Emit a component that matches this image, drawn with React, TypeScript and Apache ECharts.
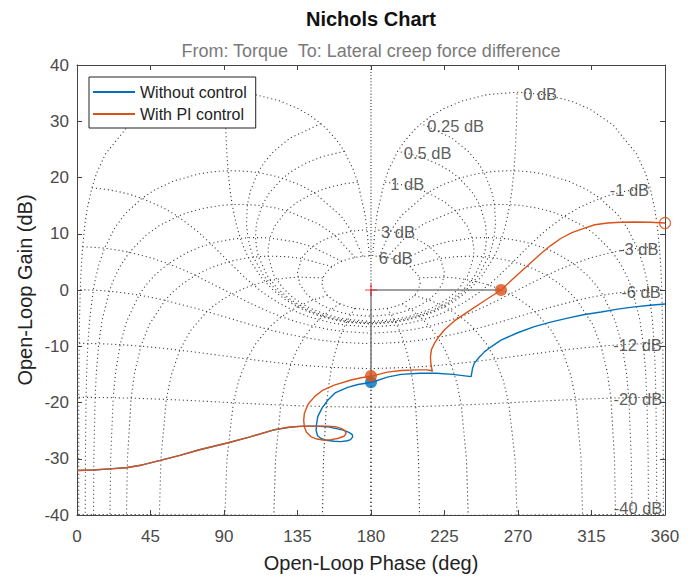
import React, { useEffect, useRef } from "react";
import * as echarts from "echarts";

const FONT = "'Liberation Sans', Arial, Helvetica, sans-serif";
const BLUE = "#0072BD";
const ORANGE = "#D95319";

// Axes
const PHASE_MIN = 0;
const PHASE_MAX = 360;
const PHASE_STEP = 45;
const GAIN_MIN = -40;
const GAIN_MAX = 40;
const GAIN_STEP = 10;

// Nichols grid definition (closed-loop gain / phase values, as in MATLAB ngrid)
const ISOGAIN_DB = [6, 3, 1, 0.5, 0.25, 0, -1, -3, -6, -12, -20, -40];
const ISOGAIN_PHASE_PTS = [1, 2, 3, 4, 5, 7.5, 10, 15, 20, 25, 30, 45, 60, 75, 90, 105, 120, 135, 150, 175, 180];
const ISOPHASE_DEG = [1, 5, 10, 20, 30, 50, 90, 120, 150, 180];
const ISOPHASE_GAIN_PTS = [6, 3, 2, 1, 0.75, 0.5, 0.4, 0.3, 0.25, 0.2, 0.15, 0.1, 0.05, 0, -0.05, -0.1, -0.15, -0.25, -0.5, -0.75, -1, -1.5, -2, -3, -4, -5, -6, -9, -12, -16, -20, -30, -40, -50, -60];

// Open-loop responses
const phaseNoCtrl = [0, 10, 20, 30, 40, 51, 63, 75, 92, 106, 120, 130, 138, 146, 153, 158, 163, 166.5, 168.5, 168.8, 167.5, 165.5, 161.5, 157.5, 152.5, 149.4, 147.3, 146.4, 146.6, 147.4, 150, 153.5, 158, 165.7, 172, 180.6, 190, 198.4, 210, 220, 230, 241.3, 242.2, 243.3, 246.4, 249.4, 253.5, 259.6, 269.8, 280, 290, 300.4, 310, 320.9, 331, 341.2, 351, 360];
const gainNoCtrl = [-32.1, -32.0, -31.8, -31.6, -31.1, -30.3, -29.4, -28.4, -27.2, -26.1, -24.9, -24.4, -24.2, -24.2, -24.3, -24.6, -24.9, -25.3, -25.7, -26.1, -26.6, -26.8, -26.95, -26.9, -26.7, -26.4, -25.9, -25.0, -24.0, -22.5, -21.0, -19.6, -18.3, -17.3, -16.8, -16.4, -15.5, -15.0, -14.8, -14.8, -15.0, -15.4, -13.9, -13.0, -11.9, -11.0, -10.1, -8.9, -7.6, -6.5, -5.7, -5.0, -4.4, -3.9, -3.4, -3.0, -2.7, -2.5];

const phasePI = [0, 10, 20, 30, 40, 51, 63, 75, 92, 106, 120, 127, 133, 139.2, 146, 153.5, 158, 161.7, 164, 164.8, 163.5, 159.6, 155.5, 151.5, 147, 143.3, 140.5, 139.2, 138.8, 139.2, 141.5, 145.3, 150, 157.5, 167.8, 174, 180.6, 190, 198.4, 208, 214, 216.8, 217.6, 216.7, 216.4, 217, 218.8, 221.5, 224.9, 231, 239.2, 249, 259.6, 265.5, 271.9, 278, 284.1, 290, 296.4, 303, 310.7, 317, 324.9, 333, 341.2, 351, 360];
const gainPI = [-32.1, -32.0, -31.8, -31.6, -31.1, -30.3, -29.4, -28.4, -27.2, -26.1, -24.9, -24.5, -24.3, -24.2, -24.2, -24.2, -24.3, -24.6, -25.0, -25.5, -26.0, -26.4, -26.6, -26.7, -26.5, -26.1, -25.3, -24.3, -23.2, -21.9, -20.3, -19.0, -17.9, -16.9, -16.0, -15.6, -15.3, -14.6, -14.3, -14.2, -14.2, -14.3, -14.5, -13.2, -11.9, -10.6, -9.5, -8.3, -7.1, -5.5, -3.9, -2.0, 0, 1.6, 3.3, 4.9, 6.5, 7.9, 9.2, 10.2, 11.0, 11.6, 11.9, 12.05, 12.1, 12.05, 11.9];

// Stability-margin markers
const criticalPoint = [180, 0];
const gmNoCtrl = [180, -16.4];
const gmPI = [180, -15.3];
const pmPI = [259.6, 0];
const endPI = [360, 11.9];

function openLoop(gDb: number, pDeg: number): [number, number] {
  const g = Math.pow(10, gDb / 20);
  const p = (pDeg * Math.PI) / 180;
  const a = g * Math.cos(p);
  const b = g * Math.sin(p);
  const re = a - a * a - b * b;
  const im = b;
  const den = (1 - a) * (1 - a) + b * b;
  const mag = Math.sqrt(re * re + im * im) / den;
  let ph = (Math.atan2(im, re) * 180) / Math.PI;
  ph = ((ph % 360) + 360) % 360;
  return [ph, 20 * Math.log10(mag)];
}

function buildOption() {
  const gridStyle = { color: "#3a3a3a", width: 1.1, type: [1.1, 2.9] as number[] };
  const gridSeries: any[] = [];

  const fullPhasePts = [
    ...ISOGAIN_PHASE_PTS,
    ...ISOGAIN_PHASE_PTS.slice(0, -1).reverse().map((p) => 360 - p),
  ];
  const isogainLines = ISOGAIN_DB.map((g) => fullPhasePts.map((p) => openLoop(g, p)));
  isogainLines.forEach((line, i) => {
    gridSeries.push({
      type: "line",
      name: "isogain" + i,
      data: line,
      showSymbol: false,
      symbol: "none",
      silent: true,
      z: 1,
      lineStyle: gridStyle,
    });
  });

  ISOPHASE_DEG.forEach((p, i) => {
    const left = ISOPHASE_GAIN_PTS.map((g) => openLoop(g, p));
    const right = left.map(([ph, gn]) => [360 - ph, gn]);
    [left, right].forEach((line, k) => {
      gridSeries.push({
        type: "line",
        name: "isophase" + i + "_" + k,
        data: line,
        showSymbol: false,
        symbol: "none",
        silent: true,
        z: 1,
        lineStyle: gridStyle,
      });
    });
  });

  gridSeries.push({
    type: "line",
    name: "isophase0",
    data: [criticalPoint, [criticalPoint[0], GAIN_MAX]],
    showSymbol: false,
    symbol: "none",
    silent: true,
    z: 1,
    lineStyle: { ...gridStyle, type: [1.1, 2] },
  });

  const labelData = ISOGAIN_DB.map((g, i) => {
    const line = isogainLines[i];
    const [ph, gn] = line[line.length - 1];
    const pos = g >= 0;
    return {
      value: [ph, gn],
      label: {
        show: true,
        formatter: `${g} dB`,
        position: pos ? "right" : "left",
        distance: pos ? 6 : 1,
        offset: [0, g === -40 ? -7 : 2],
      },
    };
  });

  const axisColor = "#444";
  const axisCommon = {
    axisLine: { show: true, onZero: false, lineStyle: { color: axisColor, width: 1 } },
    axisTick: { show: true, inside: true, length: 5, lineStyle: { color: axisColor } },
    splitLine: { show: false },
  };

  return {
    animation: false,
    backgroundColor: "#fff",
    textStyle: { fontFamily: FONT },
    grid: { left: 77, right: 29, top: 65, bottom: 62, containLabel: false },
    legend: {
      data: ["Without control", "With PI control"],
      orient: "vertical",
      left: 89,
      top: 77,
      icon: "rect",
      itemWidth: 42,
      itemHeight: 2,
      itemGap: 2,
      padding: [5, 9, 4, 4],
      borderColor: "#222",
      borderWidth: 1,
      borderRadius: 0,
      backgroundColor: "#fff",
      selectedMode: false,
      textStyle: { fontSize: 16, fontFamily: FONT, color: "#222", lineHeight: 20 },
    },
    xAxis: [
      {
        type: "value",
        min: PHASE_MIN,
        max: PHASE_MAX,
        interval: PHASE_STEP,
        position: "bottom",
        ...axisCommon,
        axisLabel: { fontSize: 17, color: "#4a4a4a", margin: 13, fontFamily: FONT },
      },
      {
        type: "value",
        min: PHASE_MIN,
        max: PHASE_MAX,
        interval: PHASE_STEP,
        position: "top",
        ...axisCommon,
        axisLabel: { show: false },
      },
    ],
    yAxis: [
      {
        type: "value",
        min: GAIN_MIN,
        max: GAIN_MAX,
        interval: GAIN_STEP,
        position: "left",
        ...axisCommon,
        axisLabel: { fontSize: 17, color: "#4a4a4a", margin: 8, fontFamily: FONT },
      },
      {
        type: "value",
        min: GAIN_MIN,
        max: GAIN_MAX,
        interval: GAIN_STEP,
        position: "right",
        ...axisCommon,
        axisLabel: { show: false },
      },
    ],
    graphic: [
      {
        type: "text",
        x: 371,
        y: 19,
        style: { text: "Nichols Chart", font: `bold 20px ${FONT}`, fill: "#111", align: "center", verticalAlign: "middle" },
      },
      {
        type: "text",
        x: 371,
        y: 51,
        style: { text: "From: Torque  To: Lateral creep force difference", font: `18px ${FONT}`, fill: "#7a7a7a", align: "center", verticalAlign: "middle" },
      },
      {
        type: "text",
        x: 371,
        y: 563,
        style: { text: "Open-Loop Phase (deg)", font: `20px ${FONT}`, fill: "#222", align: "center", verticalAlign: "middle" },
      },
      {
        type: "text",
        x: 25,
        y: 290,
        rotation: Math.PI / 2,
        style: { text: "Open-Loop Gain (dB)", font: `20px ${FONT}`, fill: "#222", align: "center", verticalAlign: "middle" },
      },
    ],
    series: [
      ...gridSeries,
      {
        type: "scatter",
        name: "gridLabels",
        data: labelData,
        symbolSize: 0,
        silent: true,
        z: 2,
        label: { fontSize: 16.5, color: "#333", fontFamily: FONT },
      },
      {
        type: "line",
        name: "marginLines",
        data: [pmPI, criticalPoint, gmNoCtrl],
        showSymbol: false,
        symbol: "none",
        silent: true,
        z: 3,
        lineStyle: { color: "#808080", width: 1.5 },
      },
      {
        type: "line",
        name: "Without control",
        data: phaseNoCtrl.map((p, i) => [p, gainNoCtrl[i]]),
        showSymbol: false,
        symbol: "none",
        z: 5,
        color: BLUE,
        lineStyle: { color: BLUE, width: 1.4 },
        itemStyle: { color: BLUE },
      },
      {
        type: "line",
        name: "With PI control",
        data: phasePI.map((p, i) => [p, gainPI[i]]),
        showSymbol: false,
        symbol: "none",
        z: 5,
        color: ORANGE,
        lineStyle: { color: ORANGE, width: 1.4 },
        itemStyle: { color: ORANGE },
      },
      {
        type: "scatter",
        name: "gmNoCtrl",
        data: [gmNoCtrl],
        symbol: "circle",
        symbolSize: 12,
        z: 6,
        itemStyle: { color: BLUE },
      },
      {
        type: "scatter",
        name: "marginsPI",
        data: [gmPI, pmPI],
        symbol: "circle",
        symbolSize: 12,
        z: 7,
        itemStyle: { color: ORANGE },
      },
      {
        type: "scatter",
        name: "endPI",
        data: [endPI],
        symbol: "circle",
        symbolSize: 11,
        z: 7,
        clip: false,
        itemStyle: { color: "rgba(255,255,255,0)", borderColor: ORANGE, borderWidth: 1.3 },
      },
      {
        type: "scatter",
        name: "critical",
        data: [criticalPoint],
        symbol: "path://M9,0h2v9h9v2h-9v9h-2v-9h-9v-2h9z",
        symbolSize: 12,
        z: 8,
        itemStyle: { color: "#e8141c" },
      },
    ],
  };
}

export default function App() {
  const ref = useRef<HTMLDivElement>(null);
  useEffect(() => {
    if (!ref.current) return;
    const chart = echarts.init(ref.current, undefined, { renderer: "svg" });
    chart.setOption(buildOption() as any);
    return () => chart.dispose();
  }, []);
  return (
    <div
      ref={ref}
      style={{ position: "fixed", left: 0, top: 0, width: 694, height: 577, background: "#fff" }}
    />
  );
}
